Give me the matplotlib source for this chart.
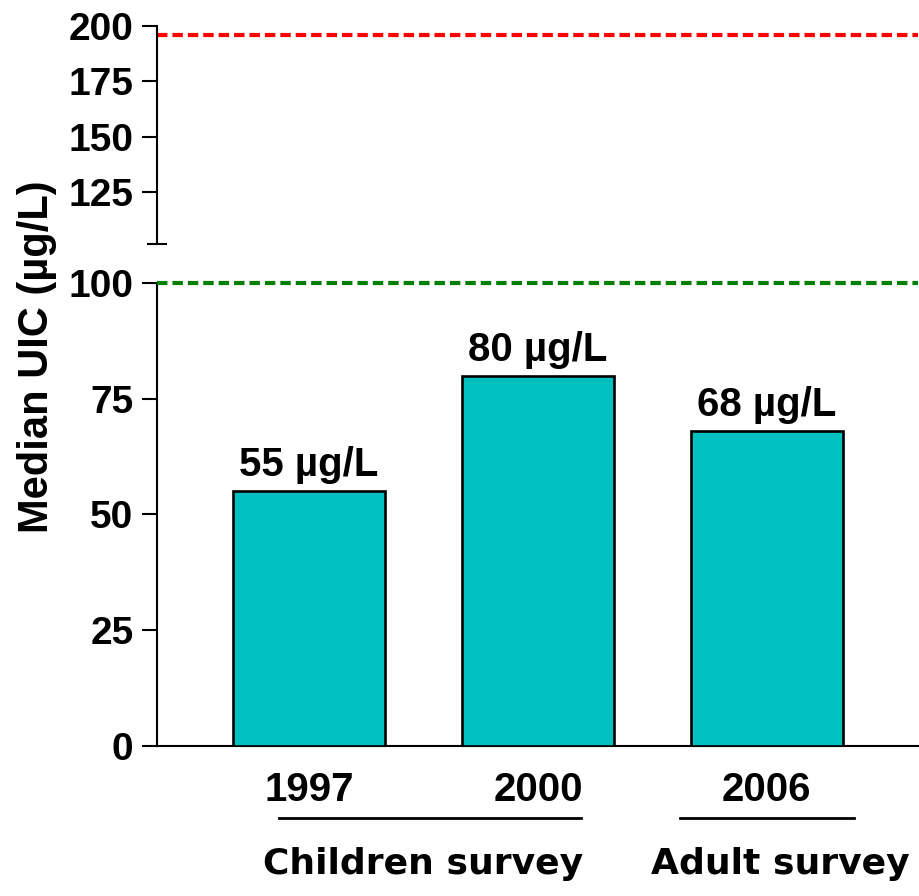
import matplotlib
matplotlib.use("Agg")
import matplotlib.pyplot as plt
import matplotlib.transforms as mtransforms
import numpy as np

# data
years = ["1997", "2000", "2006"]
median_uic = [55, 80, 68]
value_labels = ["55 µg/L", "80 µg/L", "68 µg/L"]
groups = ["Children survey", "Adult survey"]
group_spans = [(-0.13, 1.19), (1.62, 2.38)]
group_centers = [0.5, 2.06]
adequate_line = 100
excess_line = 196

plt.rcParams['font.family'] = ['Liberation Sans', 'DejaVu Sans']
plt.rcParams['font.weight'] = 'bold'

fig = plt.figure(figsize=(9.2, 8.96), dpi=100)
left, width = 0.1707, 0.827
ax_top = fig.add_axes([left, 0.7277, width, 0.2433])
ax = fig.add_axes([left, 0.1674, width, 0.5168])

x = np.arange(len(years))
ax.bar(x, median_uic, width=0.665, color="#00C0C0", edgecolor="black", linewidth=1.9, zorder=3)
ax.set_xlim(-0.664, 2.66)
ax.set_ylim(0, 100)
ax.set_yticks([0, 25, 50, 75, 100])
ax.set_xticks(x)
ax.set_xticklabels(years, fontsize=29, fontweight='bold')
ax.tick_params(axis='x', length=0, pad=18)
ax.tick_params(axis='y', direction='out', length=11, width=1.5, labelsize=28, pad=6)
for s in ['top', 'right']:
    ax.spines[s].set_visible(False)
for s in ['left', 'bottom']:
    ax.spines[s].set_linewidth(1.5)
ax.spines['left'].set_bounds(0, 100)
ax.axhline(adequate_line, color="#008000", lw=3, dashes=(2.5, 1.2), clip_on=False, zorder=4)

for xi, v, lab in zip(x, median_uic, value_labels):
    ax.annotate(lab, (xi, v), xytext=(0, 5), textcoords="offset points",
                ha='center', va='bottom', fontsize=29, fontweight='bold')

# upper broken axis
ax_top.set_xlim(-0.664, 2.66)
ax_top.set_ylim(101.5, 200)
ax_top.set_yticks([125, 150, 175, 200])
ax_top.set_yticks([101.5], minor=True)
ax_top.tick_params(axis='y', which='major', direction='out', length=11, width=1.5, labelsize=28, pad=6)
ax_top.tick_params(axis='y', which='minor', direction='inout', length=14, width=1.5)
ax_top.set_xticks([])
for s in ['top', 'right', 'bottom']:
    ax_top.spines[s].set_visible(False)
ax_top.spines['left'].set_linewidth(1.5)
ax_top.axhline(excess_line, color="#FF0000", lw=3, dashes=(2.5, 1.2), clip_on=False)

for a in (ax, ax_top):
    for t in a.get_yticklabels():
        t.set_fontweight('bold')

fig.text(0.04, 0.6016, "Median UIC (µg/L)", rotation=90,
         ha='center', va='center', fontsize=30, fontweight='bold')

trans = mtransforms.blended_transform_factory(ax.transData, ax.transAxes)
for (x0, x1), xc, name in zip(group_spans, group_centers, groups):
    ax.plot([x0, x1], [-0.1555, -0.1555], color='black', lw=2, transform=trans, clip_on=False)
    ax.text(xc, -0.255, name, transform=trans, ha='center', va='center',
            fontsize=26, fontweight='bold', family='DejaVu Sans')

fig.savefig("out.png", dpi=100)
